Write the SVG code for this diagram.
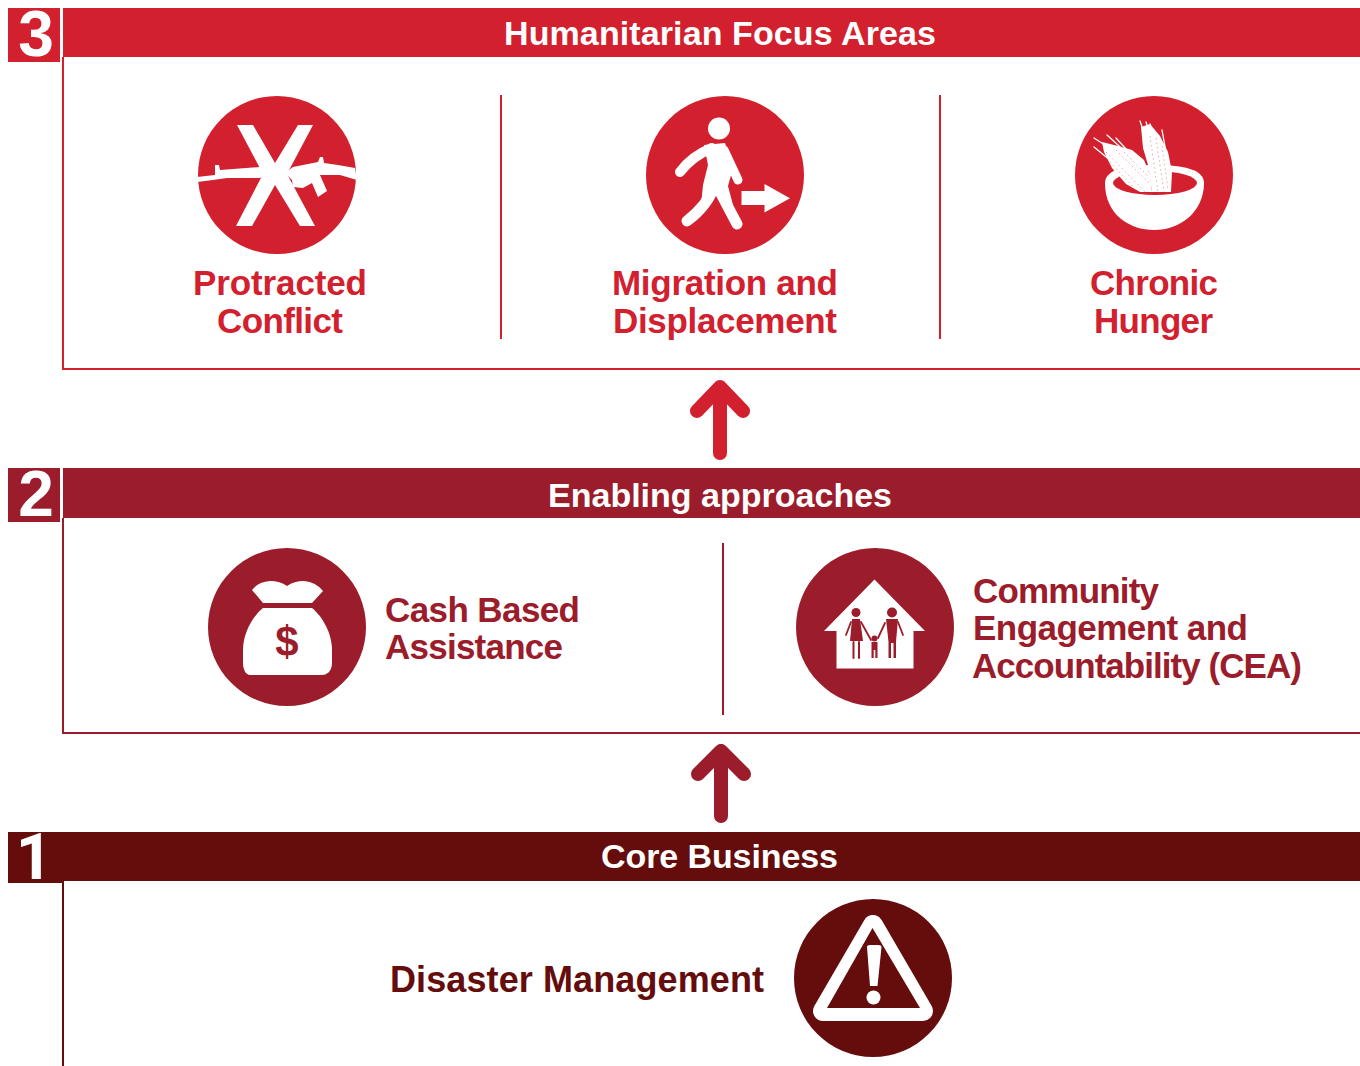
<svg xmlns="http://www.w3.org/2000/svg" width="1360" height="1066" viewBox="0 0 1360 1066">
<style>
text{font-family:"Liberation Sans",Arial,sans-serif;font-weight:700}
.h{font-size:34px;fill:#fff;text-anchor:start}
.d{font-size:64px;fill:#fff;text-anchor:middle}
.l{font-size:35px}
.r{fill:#d2202f}.m{fill:#9b1c2a}.k{fill:#650c0c}
.w{fill:#fff}
.ws{fill:none;stroke:#fff;stroke-linecap:round;stroke-linejoin:round}
.box{fill:none;stroke-width:2}
.fam{fill:none;stroke:#9b1c2a;stroke-linecap:round}
.hatch{fill:none;stroke:#d2202f;stroke-width:.8;stroke-dasharray:1.500 3;opacity:.5}
</style>
<rect width="1360" height="1066" fill="#fff"/>
<g id="section-3">
<rect class="r" x="8" y="8" width="52" height="54"/>
<rect class="r" x="63" y="8" width="1297" height="49"/>
<path class="box" stroke="#d2202f" d="M63 57V369H1360"/>
<path class="box" stroke="#d2202f" d="M501 95V339M940 95V339"/>
<text class="d" x="36" y="56">3</text>
<text class="h" x="504" y="45" textLength="432">Humanitarian Focus Areas</text>
</g>
<g id="protracted-conflict">
<circle class="r" cx="277" cy="175" r="79"/>
<path class="w" d="M237 125H253L275 163L298 125H313L287 174L315 226H300L275 185L252 226H236L263 174Z"/>
<path class="w" d="M197 177L215 175V165H219L220 170L260 167L265 175L260 178L227 178L213 180L197 182Z"/>
<path class="w" d="M285 173L293 167L318 162L320 157H323L324 163L338 165L355 168L357 180L340 175L320 175L327 191L318 197L312 183L303 188L293 187L292 180Z"/>
<text class="l r" x="193" y="295" textLength="174">Protracted</text>
<text class="l r" x="217" y="333" textLength="126">Conflict</text>
</g>
<g id="migration-displacement">
<circle class="r" cx="725" cy="175" r="79"/>
<circle class="w" cx="719" cy="128.500" r="11"/>
<path class="ws" stroke-width="10" d="M712 148Q692 156 680 172"/>
<path class="ws" stroke-width="9" d="M724 150L738 180"/>
<path class="w" d="M704 145L725 143L733 168L728 186L733 205L722 194L712 195L701 205L703 185L708 165Z"/>
<path class="ws" stroke-width="11" d="M714 186Q708 205 687 221"/>
<path class="ws" stroke-width="11" d="M718 188L737 224"/>
<path class="w" d="M741.500 191H764.500V184L790 198.300L764.500 212.500V205H741.500Z"/>
<text class="l r" x="612" y="295" textLength="226">Migration and</text>
<text class="l r" x="613" y="333" textLength="224">Displacement</text>
</g>
<g id="chronic-hunger">
<circle class="r" cx="1154" cy="175" r="79"/>
<path class="w" d="M1105 183C1105 170 1125 165 1154 165C1185 165 1204 170 1204 183C1204 212 1180 230 1154 230C1130 230 1105 215 1105 183Z"/>
<ellipse class="r" cx="1155" cy="183" rx="42" ry="12"/>
<path class="w" d="M1102 142L1118 146L1132 150L1144 160L1150 175L1152 192L1140 192L1126 184L1112 168L1104 152Z"/>
<path class="w" d="M1141 127L1150 124L1160 136L1168 152L1172 172L1171 192H1152L1148 165L1143 148Z"/>
<path class="ws" stroke-width="1.300" d="M1094 138L1122 156M1107 135L1130 156M1094 147L1122 170M1116 138L1136 160M1140 121L1150 150M1150 124L1158 150M1146 122L1154 146M1162 130L1166 152"/>
<path class="hatch" d="M1106 152L1145 192M1116 150L1150 184M1124 152L1148 176M1110 162L1134 188M1150 136L1158 192M1156 138L1164 192M1162 146L1168 190"/>
<text class="l r" x="1090" y="295" textLength="128">Chronic</text>
<text class="l r" x="1094" y="333" textLength="119">Hunger</text>
</g>
<g id="section-2">
<rect class="m" x="8" y="468" width="52" height="54"/>
<rect class="m" x="63" y="468" width="1297" height="50"/>
<path class="box" stroke="#9b1c2a" d="M63 518V733H1360"/>
<path class="box" stroke="#9b1c2a" d="M723 543V715"/>
<text class="d" x="36" y="516">2</text>
<text class="h" x="548" y="507" textLength="344">Enabling approaches</text>
</g>
<g id="cash-based-assistance">
<circle class="m" cx="287" cy="627" r="79"/>
<path class="w" d="M252 590Q258 582 270 581Q280 581 287 586Q294 581 304 581Q316 582 323 591L312 603H263Z"/>
<path class="w" d="M263 608H312C322 616 332 633 332 650V663C332 672 326 675 322 675H250C246 675 243 670 243 663V650C243 633 253 616 263 608Z"/>
<text class="m" x="287" y="656" font-size="42" text-anchor="middle">$</text>
<text class="l m" x="385" y="622" textLength="195">Cash Based</text>
<text class="l m" x="385" y="659" textLength="178">Assistance</text>
</g>
<g id="community-engagement">
<circle class="m" cx="875" cy="627" r="79"/>
<path class="w" d="M874.500 579.500L925 631H913.500V668.500H836.500V631H824Z"/>
<circle class="m" cx="856" cy="612.500" r="4.500"/>
<circle class="m" cx="892" cy="612.500" r="5"/>
<circle class="m" cx="874.500" cy="638.500" r="3"/>
<path class="m" d="M852 619H860L863 641H850Z"/>
<path class="m" d="M886 619H898L896 642V658H893.500V643H891V658H888.500V642Z"/>
<path class="m" d="M871.500 642H877.500V658H875.300V650H873.700V658H871.500Z"/>
<path class="fam" stroke-width="2" d="M853.500 642V658M859 642V658"/>
<path class="fam" stroke-width="1.800" d="M851 622L846 635M861 622L871 640M885 623L878 638M898 622L903 635"/>
<text class="l m" x="973" y="603" textLength="186">Community</text>
<text class="l m" x="973" y="640" textLength="275">Engagement and</text>
<text class="l m" x="972" y="678" textLength="330">Accountability (CEA)</text>
</g>
<g id="section-1">
<rect class="k" x="8" y="832" width="55" height="51"/>
<rect class="k" x="63" y="832" width="1297" height="49"/>
<path class="box" stroke="#650c0c" d="M63 881V1066"/>
<text class="d" x="34" y="879" style="font-family:Roboto,sans-serif">1</text>
<text class="h" x="601" y="868" textLength="237">Core Business</text>
</g>
<g id="disaster-management">
<circle class="k" cx="873" cy="978" r="79"/>
<path class="w" stroke="#fff" stroke-width="20" stroke-linejoin="round" d="M873 925L823 1011H923Z"/>
<path class="k" d="M872.500 928L827 1008H920Z"/>
<path class="w" d="M867 947Q867 945 870 945H878Q881.500 945 881.500 947L877.500 986H870Z"/>
<circle class="w" cx="873.500" cy="997.500" r="7"/>
<text class="k" x="390" y="992" font-size="36" textLength="374">Disaster Management</text>
</g>
<g id="connectors" fill="none" stroke-linecap="round" stroke-linejoin="round" stroke-width="14">
<path stroke="#d2202f" d="M720 453V387M697 411L720 387L743 411"/>
<path stroke="#9b1c2a" d="M721 816V751M698 774L721 751L744 774"/>
</g>
</svg>
